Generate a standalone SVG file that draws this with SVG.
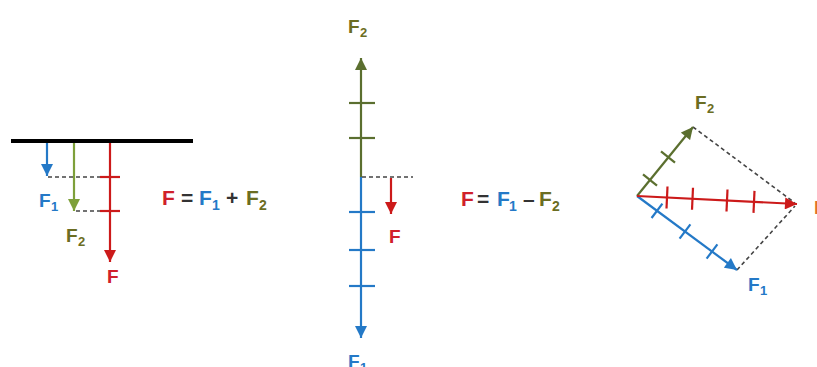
<svg xmlns="http://www.w3.org/2000/svg" width="817" height="367" viewBox="0 0 817 367">
<style>
text{font-family:"Liberation Sans",Arial,sans-serif;font-weight:bold}
.lab{font-size:19px}
.sub{font-size:13px}
.eq{font-size:21px}
.eqs{font-size:14px}
.blue{fill:#2479c7}
.olive{fill:#6b6d22}
.red{fill:#d0202a}
.orange{fill:#e0702a}
.dark{fill:#333}
.ln{stroke-width:2.2;fill:none}
.sb{stroke:#2479c7}
.so{stroke:#5b6f2f}
.sg{stroke:#7ea03a}
.sr{stroke:#cc1a1a}
.dash{stroke:#444;stroke-width:1.6;stroke-dasharray:4 3;fill:none}
</style>
<defs>
<marker id="ab" viewBox="0 0 10 10" refX="10" refY="5" markerWidth="13" markerHeight="12" markerUnits="userSpaceOnUse" orient="auto"><path d="M0,0 L10,5 L0,10 z" fill="#2479c7"/></marker>
<marker id="ao" viewBox="0 0 10 10" refX="10" refY="5" markerWidth="13" markerHeight="12" markerUnits="userSpaceOnUse" orient="auto"><path d="M0,0 L10,5 L0,10 z" fill="#5b6f2f"/></marker>
<marker id="ag" viewBox="0 0 10 10" refX="10" refY="5" markerWidth="13" markerHeight="12" markerUnits="userSpaceOnUse" orient="auto"><path d="M0,0 L10,5 L0,10 z" fill="#7ea03a"/></marker>
<marker id="ar" viewBox="0 0 10 10" refX="10" refY="5" markerWidth="13" markerHeight="12" markerUnits="userSpaceOnUse" orient="auto"><path d="M0,0 L10,5 L0,10 z" fill="#cc1a1a"/></marker>
</defs>
<rect width="817" height="367" fill="#fff"/>

<g id="connectors">
<!-- left panel -->
<line x1="11" y1="141" x2="193" y2="141" stroke="#000" stroke-width="4"/>
<line class="ln sb" x1="47" y1="143" x2="47" y2="176" marker-end="url(#ab)"/>
<line class="ln sg" x1="74" y1="143" x2="74" y2="211" marker-end="url(#ag)"/>
<line class="ln sr" x1="110" y1="143" x2="110" y2="262" marker-end="url(#ar)"/>
<line class="dash" x1="48" y1="177" x2="100" y2="177"/>
<line class="dash" x1="76" y1="211" x2="100" y2="211"/>
<line class="ln sr" x1="100" y1="177" x2="120" y2="177"/>
<line class="ln sr" x1="100" y1="211" x2="120" y2="211"/>
<!-- middle panel -->
<line class="ln so" x1="361" y1="177" x2="361" y2="58" marker-end="url(#ao)"/>
<line class="ln so" x1="349" y1="103" x2="375" y2="103"/>
<line class="ln so" x1="349" y1="138" x2="375" y2="138"/>
<line class="ln sb" x1="361" y1="177" x2="361" y2="338" marker-end="url(#ab)"/>
<line class="ln sb" x1="349" y1="212" x2="375" y2="212"/>
<line class="ln sb" x1="349" y1="250" x2="375" y2="250"/>
<line class="ln sb" x1="349" y1="286" x2="375" y2="286"/>
<line class="dash" x1="362" y1="177" x2="413" y2="177"/>
<line class="ln sr" x1="391" y1="178" x2="391" y2="214" marker-end="url(#ar)"/>
<!-- right panel -->
<line class="dash" x1="693" y1="127" x2="795" y2="203"/>
<line class="dash" x1="737" y1="270" x2="795" y2="206"/>
<line class="ln so" x1="637" y1="196" x2="693" y2="127" marker-end="url(#ao)"/>
<line class="ln so" x1="643" y1="174.3" x2="657" y2="185.7"/>
<line class="ln so" x1="661" y1="151.3" x2="675" y2="162.7"/>
<line class="ln sb" x1="637" y1="196" x2="737" y2="270" marker-end="url(#ab)"/>
<line class="ln sb" x1="651.6" y1="218" x2="662.4" y2="203.6"/>
<line class="ln sb" x1="679.6" y1="238.7" x2="690.4" y2="224.3"/>
<line class="ln sb" x1="706.6" y1="258.7" x2="717.4" y2="244.3"/>
<line class="ln sr" x1="637" y1="196" x2="797" y2="204" marker-end="url(#ar)"/>
<line class="ln sr" x1="667.5" y1="186.5" x2="666.5" y2="208.5"/>
<line class="ln sr" x1="693" y1="187.8" x2="692" y2="209.8"/>
<line class="ln sr" x1="727.5" y1="189.5" x2="726.5" y2="211.5"/>
<line class="ln sr" x1="754.5" y1="190.9" x2="753.5" y2="212.9"/>
</g>

<g id="labels-left">
<text class="lab blue" x="39" y="207">F</text><text class="sub blue" x="51" y="211">1</text>
<text class="lab olive" x="66" y="242">F</text><text class="sub olive" x="78" y="246">2</text>
<text class="lab red" x="107" y="283">F</text>
</g>

<g id="equation-sum">
<text class="eq red" x="162" y="205">F</text>
<text class="eq dark" x="181" y="205">=</text>
<text class="eq blue" x="199" y="205">F</text>
<text class="eqs blue" x="212" y="210">1</text>
<text class="eq dark" x="226" y="205">+</text>
<text class="eq olive" x="246" y="205">F</text>
<text class="eqs olive" x="259" y="210">2</text>
</g>

<g id="labels-middle">
<text class="lab olive" x="348" y="33">F</text><text class="sub olive" x="360" y="37">2</text>
<text class="lab red" x="389" y="243">F</text>
<text class="lab blue" x="348" y="368">F</text><text class="sub blue" x="360" y="372">1</text>
</g>

<g id="equation-diff">
<text class="eq red" x="461" y="206">F</text>
<text class="eq dark" x="477" y="206">=</text>
<text class="eq blue" x="497" y="206">F</text>
<text class="eqs blue" x="509" y="211">1</text>
<text class="eq dark" x="523" y="206">–</text>
<text class="eq olive" x="539" y="206">F</text>
<text class="eqs olive" x="552" y="211">2</text>
</g>

<g id="labels-right">
<text class="lab olive" x="695" y="109">F</text><text class="sub olive" x="707" y="113">2</text>
<text class="lab blue" x="748" y="291">F</text><text class="sub blue" x="760" y="295">1</text>
<text class="lab orange" x="814" y="214">F</text>
</g>
</svg>
